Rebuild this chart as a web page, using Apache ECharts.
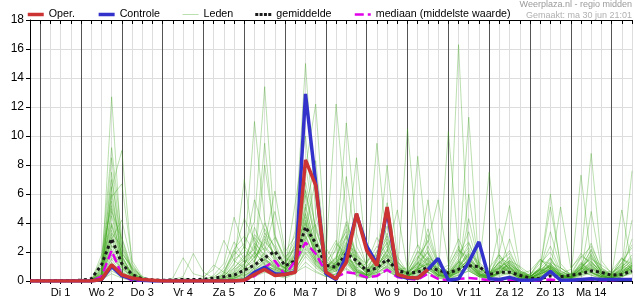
<!DOCTYPE html>
<html>
<head>
<meta charset="utf-8">
<script src="https://cdn.jsdelivr.net/npm/echarts@6/dist/echarts.min.js"></script>
<style>
html,body{margin:0;padding:0;background:#fff;}
#c{width:635px;height:300px;}
</style>
</head>
<body>
<div id="c"></div>
<script>
// Day labels (placed at 12:00 of each day)
const dayLabels = ['Di 1','Wo 2','Do 3','Vr 4','Za 5','Zo 6','Ma 7','Di 8','Wo 9','Do 10','Vr 11','Za 12','Zo 13','Ma 14'];
const yTicks = [0,2,4,6,8,10,12,14,16,18];

// Oper. (operational run), 6-hourly from ma 30 jun 18:00
const oper = [0, 0,0,0,0, 0,0,0.1,1.12, 0.43,0.2,0.1,0.05, 0,0,0,0, 0,0,0,0, 0.05,0.45,0.8,0.38, 0.45,0.6,8.35,6.6, 0.61,0.15,1.3,4.65, 2.1,1.07,5.1,0.45, 0.25,0.2,0.8];

// Controle
const controle = [0, 0,0,0,0, 0,0,0.1,1.0, 0.35,0.15,0.05,0, 0,0,0,0, 0,0,0,0, 0.05,0.6,0.95,0.5, 0.45,0.65,12.9,6.8, 0.5,0.1,1.8,4.6, 2.4,1.2,4.9,0.4, 0.2,0.2,0.8,1.55, 0.05,0.15,1.3,2.7, 0.15,0.1,0.25,0.05, 0.05,0.1,0.66,0.05, 0.05,0.1,0.15,0.1, 0.1,0.1,0.1];

// gemiddelde (ensemble mean)
const gemiddelde = [0.02, 0.02,0.02,0.03,0.03, 0.05,0.15,1.1,2.92, 1.2,0.45,0.15,0.08, 0.05,0.08,0.1,0.1, 0.12,0.2,0.3,0.4, 0.75,1.1,1.6,2.05, 1.05,1.4,3.73,2.6, 1.07,0.96,1.9,1.4, 0.7,0.9,1.5,0.73, 0.55,0.6,0.95,0.75, 0.55,0.8,1.05,1.0, 0.45,0.6,0.6,0.4, 0.2,0.15,0.35,0.3, 0.4,0.5,0.7,0.6, 0.4,0.45,0.7];

// mediaan (middelste waarde)
const mediaan = [0, 0,0,0,0, 0,0,0.3,2.1, 0.4,0.05,0,0, 0,0,0,0, 0,0,0,0, 0,0.35,0.95,1.4, 0.4,1.4,2.65,1.88, 0.6,0.27,0.6,0.5, 0.25,0.35,0.78,0.27, 0.15,0.1,0.5,0.15, 0.05,0.15,0.2,0.15, 0.05,0.05,0.1,0.05, 0,0.05,0.1,0.05, 0.05,0.1,0.1,0.05, 0.05,0.1,0.1];

// Leden (ensemble members)
const leden01 = [0, 0,0,0,0, 0,0,0.3,12.7, 1.8,0.4,0,0, 0,0,0,0, 0,0,0.2,0.6, 1.1,2.4,1.5,0.8, 0.5,1.3,4.2,2.0, 0.7,0.4,1.6,0.3, 0.2,0.9,2.2,0.5, 0.1,0.3,1.2,0.6, 0.4,16.3,1.3,0.5, 0.3,0.6,1.0,0.2, 0.1,0.5,0.7,0.3, 0.2,1.2,0.6,0.2, 0.1,0.5,0.9];
const leden02 = [0, 0,0,0,0, 0,0,0.8,8.5, 2.1,0.6,0.1,0, 0,0,0,0, 0,0,0.5,1.8, 2.6,4.1,13.4,3.2, 1.5,2.8,6.3,3.1, 1.1,0.6,2.4,1.2, 0.5,1.4,3.8,1.1, 0.4,0.9,2.1,0.8, 0.5,1.6,3.4,0.9, 0.4,1.8,0.7,0.3, 0.2,0.6,1.5,0.4, 0.3,0.8,2.2,0.6, 0.4,1.1,0.7];
const leden03 = [0, 0,0,0,0, 0,0,0.2,6.4, 9.0,1.2,0.2,0, 0,0,0,0, 0,0,0,0.3, 0.8,1.7,2.3,1.4, 0.9,3.5,15.0,4.6, 1.2,0.8,1.9,0.7, 0.3,0.6,1.8,0.9, 0.5,1.2,0.8,0.4, 0.9,2.4,1.1,0.4, 0.2,0.5,1.3,0.6, 0.3,0.7,0.4,0.2, 0.1,0.6,1.4,0.5, 0.3,0.8,2.9];
const leden04 = [0, 0,0,0,0, 0,0,0.5,7.5, 1.4,0.3,0,0, 0,0,0.2,0.1, 0,0.4,1.2,4.4, 2.2,1.3,3.1,1.8, 0.6,1.9,7.8,12.2, 2.3,1.1,3.2,1.5, 0.6,1.5,2.7,0.8, 0.4,0.7,1.6,0.5, 0.3,0.9,2.1,1.0, 0.5,1.3,0.6,0.2, 0.1,0.4,0.9,0.4, 0.2,0.9,0.5,0.3, 0.2,0.4,1.1];
const leden05 = [0, 0,0,0,0, 0,0,1.1,7.0, 2.6,0.8,0.1,0, 0,0,0,0, 0,0,0.1,0.6, 1.4,3.0,2.1,4.8, 1.7,2.2,5.1,2.4, 1.9,12.2,4.4,1.6, 0.7,2.1,1.3,0.6, 0.3,1.1,3.6,1.2, 0.6,1.4,0.9,0.4, 0.3,0.8,1.7,0.5, 0.2,1.0,2.4,0.7, 0.3,0.7,1.8,0.6, 0.4,1.6,0.8];
const leden06 = [0, 0,0,0,0, 0,0,0.4,6.5, 1.2,0.5,0,0, 0,0,0,0, 0,0,0,0.2, 0.5,1.1,1.9,1.0, 0.7,1.5,3.9,2.6, 1.4,2.1,10.9,3.3, 1.0,1.8,2.9,1.2, 0.5,1.3,0.9,0.3, 10.3,2.2,0.8,0.4, 0.4,0.9,0.6,0.2, 0.1,0.3,0.8,0.4, 0.3,1.3,0.7,0.3, 0.2,0.6,1.3];
const leden07 = [0, 0,0,0,0, 0,0,0.6,6.0, 1.7,0.4,0.1,0, 0,0,0,0, 0.1,0.3,0.7,1.9, 4.3,2.8,1.6,0.9, 0.6,1.0,4.7,1.9, 0.8,1.3,7.2,2.4, 1.1,9.5,2.3,0.7, 0.3,0.8,1.4,0.6, 0.2,0.7,1.6,0.5, 0.3,1.1,0.8,0.3, 0.2,0.5,1.2,0.4, 0.2,0.6,0.4,0.2, 0.1,0.3,0.7];
const leden08 = [0, 0,0,0,0, 0,0,0.9,5.5, 2.3,0.7,0.1,0, 0,0,0,0, 0,0,0.4,1.5, 2.0,5.6,3.4,1.5, 0.8,1.4,6.8,3.7, 1.3,0.9,2.6,1.1, 0.6,1.2,4.5,1.4, 0.5,1.6,2.7,5.6, 1.2,2.9,1.3,0.6, 0.4,2.0,5.2,0.9, 0.3,0.8,1.1,0.3, 0.2,0.9,1.6,0.7, 0.3,1.0,0.6];
const leden09 = [0, 0,0,0,0, 0,0,0.3,5.0, 1.0,0.2,0,0, 0,0.1,0.3,1.9, 0.6,0.2,0.4,0.9, 1.6,2.2,4.0,2.1, 0.9,1.7,3.2,1.4, 0.6,1.0,1.8,0.8, 0.4,0.7,1.2,0.5, 0.6,8.6,1.9,0.7, 0.3,0.6,6.0,1.1, 0.5,1.3,0.9,0.4, 0.3,0.9,5.1,1.2, 0.4,1.2,0.6,0.3, 0.2,0.4,0.8];
const leden10 = [0, 0,0,0,0, 0,0,0.2,4.5, 1.5,0.4,0,0, 0,0,0,0, 0,0,0.2,0.8, 1.2,1.8,9.5,2.6, 1.1,2.4,4.0,1.7, 0.7,1.3,2.2,1.5, 0.8,1.6,0.9,0.4, 0.3,1.0,1.7,0.6, 0.4,1.3,0.7,0.3, 0.2,0.6,1.4,0.6, 0.4,1.5,0.8,5.1, 0.9,1.7,8.8,1.4, 0.5,1.2,0.9];
const leden11 = [0, 0,0,0,0, 0,0,1.3,4.0, 1.9,1.0,0.2,0, 0,0,0,0, 0,0,0,0.4, 0.9,1.4,2.6,6.2, 2.0,3.1,8.0,3.5, 1.5,1.1,3.0,1.3, 0.6,1.0,1.9,0.7, 0.3,0.9,0.6,0.2, 0.1,0.5,1.1,0.4, 0.2,0.7,0.5,0.2, 0.1,0.4,0.9,0.3, 0.2,7.3,1.4,0.5, 0.3,0.8,1.5];
const leden12 = [0, 0,0,0,0, 0,0,0.7,3.5, 1.2,0.6,0.1,0, 0,0,0,0, 0,0.2,0.9,2.7, 1.5,0.8,1.2,0.7, 0.5,0.9,3.4,2.2, 0.9,1.6,4.1,1.9, 0.7,1.4,5.4,1.3, 0.6,2.1,1.3,0.5, 0.4,1.3,11.3,0.9, 0.4,1.0,0.7,0.3, 0.2,0.5,1.0,0.4, 0.3,0.8,1.9,0.6, 0.3,0.9,0.5];
const leden13 = [0, 0,0,0,0, 0,0,0.4,3.0, 0.9,0.3,0,0, 0,0,0,0, 0,0,0,0.1, 0.3,0.9,1.5,1.1, 0.6,1.1,2.8,1.3, 0.5,0.8,1.5,0.6, 0.3,0.8,3.3,0.9, 0.4,1.2,0.8,0.3, 0.2,0.8,1.5,0.6, 7.5,1.6,0.8,0.3, 0.2,0.6,1.2,0.5, 0.3,0.7,0.4,0.2, 0.1,0.3,0.6];
const leden14 = [0, 0,0,0,0, 0,0,0.1,2.5, 0.7,0.2,0,0, 0,0,0,0, 0,0,0,0, 0.2,0.6,1.0,0.8, 0.5,1.6,5.9,2.8, 1.2,0.7,1.3,0.5, 0.3,0.5,1.1,0.4, 10.5,2.4,1.0,0.4, 0.3,0.7,1.3,0.5, 0.4,1.1,0.6,0.3, 0.2,0.4,0.9,0.3, 0.2,0.6,1.2,0.4, 0.3,0.7,7.6];
const leden15 = [0, 0,0,0,0, 0,0,0.5,2.0, 1.1,0.5,0.1,0, 0,0,0,0, 0,0,0.3,1.1, 7.0,2.3,1.4,0.9, 0.7,1.2,2.5,1.1, 0.6,1.0,2.0,0.9, 0.4,1.1,2.0,4.9, 0.8,1.7,1.1,0.4, 0.3,0.9,1.9,0.7, 0.3,1.0,0.6,0.2, 0.1,0.3,0.8,0.3, 0.2,0.6,4.8,0.9, 0.4,4.9,1.0];
const leden16 = [0, 0,0,0,0, 0,0,0.3,1.8, 0.6,0.2,0,0, 0,0.2,1.6,0.5, 0.3,0.8,2.8,1.4, 0.9,1.6,2.9,1.7, 0.8,2.0,6.2,2.6, 0.9,1.4,3.6,1.8, 0.6,1.3,2.4,1.0, 0.5,1.4,5.6,0.9, 0.4,1.2,2.6,1.0, 0.4,0.9,1.6,0.5, 0.3,0.8,6.0,0.9, 0.4,1.0,2.1,0.7, 0.4,1.3,2.3];
const leden17 = [0, 0,0,0,0, 0,0,0.2,1.5, 0.5,0.1,0,0, 0,0,0,0, 0,0,0.1,0.5, 1.0,3.7,2.0,1.2, 0.9,5.4,10.0,3.0, 1.1,0.8,1.5,0.7, 0.4,0.9,1.6,0.6, 0.3,0.8,1.3,0.5, 0.3,0.8,1.2,0.4, 0.3,0.6,0.4,0.2, 0.1,0.3,0.7,0.3, 0.2,0.5,0.9,0.4, 0.2,0.5,0.9];
const leden18 = [0, 0,0,0,0, 0,0,0.1,1.2, 0.4,0.1,0,0, 0,0,0,0, 0,0,0,0.2, 0.4,0.8,1.3,0.9, 0.6,1.3,4.9,8.3, 1.6,2.8,1.3,0.6, 0.5,1.0,2.1,0.9, 0.3,0.9,1.5,0.6, 0.4,1.0,1.8,0.7, 0.3,0.9,1.4,0.5, 0.3,0.7,1.0,0.4, 0.2,0.8,1.3,0.5, 0.3,0.6,1.1];
const leden19 = [0, 0,0,0,0, 0,0,0.6,1.0, 0.8,0.3,0.1,0, 0,0,0,0, 0,0,0.5,2.1, 1.3,1.9,3.6,2.3, 1.0,1.8,3.6,1.8, 0.7,1.1,2.3,8.5, 1.4,1.8,1.2,0.5, 0.3,0.8,1.2,0.4, 0.3,1.1,0.8,0.3, 0.2,0.7,1.2,0.4, 0.3,0.8,0.6,0.2, 0.1,0.5,1.0,0.4, 0.2,0.7,1.2];
const leden20 = [0, 0,0,0,0, 0,0,0,0.7, 0.3,0.1,0,0, 0,0,0,0, 0,0,0,0.1, 0.3,0.7,1.1,0.6, 0.4,0.7,2.2,1.2, 0.5,1.0,1.7,0.8, 0.5,1.2,0.8,0.3, 0.2,0.6,1.0,0.4, 0.2,0.6,1.1,0.4, 0.2,0.5,0.9,0.3, 0.2,0.6,1.6,0.5, 0.3,0.9,1.7,0.6, 0.4,0.8,1.4];
const leden21 = [0, 0,0,0,0, 0,0,1.5,9.2, 3.0,0.9,0.2,0, 0,0,0,0, 0,0,0.2,0.9, 1.8,11.0,4.2,1.3, 0.9,1.6,3.0,1.5, 0.6,1.3,2.7,1.0, 0.4,1.0,1.7,0.6, 0.3,0.9,2.4,0.9, 0.5,1.3,0.9,0.3, 0.2,0.6,1.3,0.4, 0.3,0.8,0.5,0.2, 0.1,0.4,0.8,0.3, 0.2,0.5,0.9];
const leden22 = [0, 0,0,0,0, 0,0,0.8,5.8, 6.7,1.4,0.3,0, 0,0,0,0, 0,0,0,0.3, 0.7,1.2,8.0,3.1, 1.3,2.2,4.4,2.0, 0.9,1.5,3.9,1.6, 0.7,1.4,8.0,1.7, 0.6,1.2,1.9,0.7, 0.4,1.0,1.7,0.6, 0.3,1.4,0.9,0.4, 0.2,0.5,1.1,0.4, 0.3,1.0,0.6,0.3, 0.2,0.6,1.0];
const leden23 = [0, 0,0,0,0, 0,0,0.4,3.8, 1.6,0.5,0.1,0, 0,0,0,0, 0.2,1.1,0.6,0.3, 0.5,0.9,1.5,1.0, 0.6,1.1,3.1,1.5, 0.7,1.2,2.0,0.8, 0.4,0.8,1.4,0.5, 0.3,0.7,1.1,0.4, 0.3,0.8,4.3,1.2, 0.5,3.6,1.0,0.4, 0.3,0.6,1.1,0.4, 0.2,0.7,1.1,0.5, 0.3,0.6,1.0];
const leden24 = [0, 0,0,0,0.1, 0,0,0.3,2.8, 1.0,0.4,0.1,0, 0,0,0,0, 0,0,0,0, 0.2,0.5,0.9,0.6, 0.4,0.8,2.0,1.1, 0.5,0.9,1.4,0.6, 0.3,0.6,1.0,0.4, 0.3,0.7,3.2,1.1, 0.4,0.9,1.4,0.5, 0.3,0.8,2.9,0.7, 0.3,0.8,3.4,0.9, 0.4,0.9,0.6,0.3, 0.2,0.7,4.2];
const leden25 = [0, 0,0,0,0, 0,0,0.2,2.2, 0.6,0.2,0,0, 0,0,0,0, 0,0,0,0, 0.1,0.4,0.8,0.5, 0.3,0.6,1.7,0.9, 0.4,0.7,1.1,0.5, 0.2,0.5,0.9,0.3, 0.2,0.5,0.8,0.3, 0.2,0.6,1.0,0.4, 0.2,0.5,0.8,0.3, 0.2,0.5,0.9,0.3, 0.2,0.6,1.1,0.4, 0.2,0.5,0.8];
const leden26 = [0, 0,0,0,0, 0,0,0.5,3.2, 1.3,0.3,0,0, 0,0,0,0, 0,0,0,0.2, 0.6,1.0,1.7,1.2, 0.8,1.4,3.6,7.0, 1.8,1.0,1.6,0.7, 0.4,0.9,1.4,0.6, 0.3,0.8,1.2,0.5, 0.3,0.8,1.2,0.5, 0.2,0.6,1.0,0.3, 0.2,0.5,0.8,0.3, 0.2,0.6,1.0,0.4, 0.2,0.6,1.0];
const leden27 = [0, 0,0,0,0, 0,0,0.1,0.5, 0.2,0,0,0, 0,0,0,0, 0,0,0,0, 0.1,0.3,0.6,0.4, 0.2,0.5,1.3,0.7, 0.3,0.5,0.9,0.4, 0.2,0.4,0.7,0.3, 0.1,0.4,0.6,0.2, 0.1,0.4,0.7,0.3, 0.1,0.3,0.6,0.2, 0.1,0.3,0.5,0.2, 0.1,0.3,0.6,0.2, 0.1,0.3,0.5];
const leden28 = [0, 0,0,0,0, 0,0,0.2,1.3, 0.4,0.1,0,0, 0,0,0,0, 0,0,0,0.3, 0.9,2.0,1.2,0.7, 0.5,0.9,2.6,1.3, 0.6,0.9,1.6,0.7, 0.3,0.7,1.3,0.5, 0.2,0.6,1.0,0.4, 0.2,0.7,1.3,0.5, 0.2,0.7,1.1,0.4, 0.2,0.6,1.0,0.4, 0.2,0.5,0.9,0.3, 0.2,0.4,0.7];
const leden29 = [0, 0,0,0,0, 0,0,0.6,4.8, 2.9,0.7,0.1,0, 0,0,0,0, 0,0,0,0.4, 1.2,2.6,1.8,1.1, 0.7,1.8,5.3,2.1, 0.9,1.7,3.1,1.2, 0.5,1.6,2.6,0.9, 0.4,1.3,2.0,0.7, 0.5,1.4,2.3,0.8, 0.4,1.2,2.1,0.6, 0.3,0.9,1.6,0.5, 0.3,1.1,2.6,0.8, 0.4,0.9,1.8];
const leden30 = [0, 0,0,0,0, 0,0,0.9,3.9, 1.3,0.5,0.1,0, 0,0,0,0, 0,0,0.3,1.2, 2.4,1.6,2.7,1.9, 1.2,2.5,4.1,1.6, 0.7,2.3,3.4,1.4, 0.8,2.0,3.1,1.0, 0.5,1.5,2.8,1.1, 0.6,1.9,2.7,0.9, 0.5,1.3,1.9,0.7, 0.4,1.2,2.0,0.6, 0.4,1.6,2.4,0.9, 0.5,1.2,2.5];
const leden31 = [0, 0,0,0,0, 0,0,0.3,2.9, 4.2,1.1,0.2,0, 0,0,0,0, 0,0,0,0.1, 0.6,1.3,3.3,2.4, 1.0,1.5,2.9,3.9, 1.3,1.1,2.5,2.0, 0.9,1.1,1.8,1.3, 0.7,1.0,1.6,1.2, 0.6,1.1,1.9,1.3, 0.6,0.9,1.4,1.0, 0.5,0.8,1.3,0.9, 0.5,1.0,1.5,1.1, 0.6,1.0,1.6];
const leden32 = [0, 0,0,0,0, 0,0,1.8,5.2, 1.7,0.5,0.1,0, 0,0,0,0, 0,0,0.2,0.7, 1.5,3.2,2.4,1.6, 0.9,2.1,3.7,1.9, 1.0,1.6,2.1,1.7, 1.2,2.4,1.5,0.8, 0.6,2.0,1.4,0.7, 0.7,2.1,1.6,0.7, 0.5,1.6,1.2,0.5, 0.4,1.4,1.2,0.5, 0.5,1.7,1.3,0.6, 0.5,1.5,1.2];
const leden33 = [0, 0,0,0,0, 0,0,0.4,2.4, 1.9,0.9,0.3,0, 0,0,0,0, 0,0,0.1,0.5, 0.8,1.1,2.0,3.0, 1.6,1.2,2.3,1.4, 0.8,0.9,1.5,1.2, 0.6,0.8,1.4,1.1, 0.5,0.8,1.2,0.9, 0.5,0.9,1.4,1.0, 0.4,0.8,1.1,0.7, 0.4,0.7,1.0,0.7, 0.4,0.8,1.2,0.8, 0.4,0.7,1.1];
const leden34 = [0, 0,0,0,0, 0,0,0.2,1.6, 0.9,0.3,0,0, 0,0,0,0, 0,0,0,0.2, 0.4,0.7,1.4,1.0, 0.6,0.9,1.9,1.0, 0.5,0.7,1.2,0.6, 0.4,0.6,1.0,0.5, 0.3,0.6,0.9,0.4, 0.3,0.6,1.0,0.5, 0.3,0.5,0.9,0.4, 0.2,0.5,0.8,0.4, 0.3,0.6,0.9,0.4, 0.3,0.5,0.9];
const leden35 = [0, 0,0,0,0, 0,0,0.7,3.3, 2.4,0.8,0.2,0, 0,0,0,0, 0,0.1,0.6,2.2, 3.1,2.0,1.1,0.8, 0.6,2.7,4.6,2.3, 1.1,2.6,1.8,0.9, 1.2,3.0,1.7,0.8, 0.9,2.5,1.5,0.7, 1.1,2.2,1.3,0.6, 0.9,1.8,1.0,0.5, 0.7,1.5,0.9,0.5, 0.8,1.9,1.1,0.5, 0.7,1.6,1.0];
const leden36 = [0, 0,0,0,0, 0,0,0.1,0.9, 0.5,0.2,0,0, 0,0,0,0, 0,0,0,0, 0.2,0.5,0.8,0.5, 0.3,0.6,1.0,0.6, 0.3,0.5,0.8,0.4, 0.2,0.4,0.7,0.3, 0.2,0.4,0.6,0.3, 0.2,0.4,0.7,0.3, 0.2,0.4,0.6,0.3, 0.2,0.3,0.5,0.2, 0.2,0.4,0.6,0.3, 0.2,0.3,0.6];

const leden = [leden01,leden02,leden03,leden04,leden05,leden06,leden07,leden08,leden09,leden10,
  leden11,leden12,leden13,leden14,leden15,leden16,leden17,leden18,leden19,leden20,
  leden21,leden22,leden23,leden24,leden25,leden26,leden27,leden28,leden29,leden30,
  leden31,leden32,leden33,leden34,leden35,leden36];

// 6-hourly time categories from ma 30 jun 18:00 (60 steps)
const categories = [];
for (let i = 0; i < 60; i++) {
  const h = 18 + 6 * i;
  const d = Math.floor(h / 24);
  const day = d === 0 ? '30 jun' : d + ' jul';
  categories.push(day + ' ' + String(h % 24).padStart(2, '0') + ':00');
}

const FONT = 'Liberation Sans, Arial, sans-serif';
const chart = echarts.init(document.getElementById('c'), null, {renderer: 'canvas'});

const series = [];
leden.forEach(function (m) {
  series.push({
    name: 'Leden', type: 'line', data: m, xAxisIndex: 0, symbol: 'none',
    lineStyle: {color: 'rgba(60,165,25,0.35)', width: 1},
    itemStyle: {color: 'rgba(60,165,25,0.4)'},
    z: 2, silent: true
  });
});
series.push({
  name: 'gemiddelde', type: 'line', data: gemiddelde, symbol: 'none',
  lineStyle: {color: '#1a1a1a', width: 3, type: [3, 3]}, itemStyle: {color: '#1a1a1a'}, z: 4
});
series.push({
  name: 'mediaan (middelste waarde)', type: 'line', data: mediaan, symbol: 'none',
  lineStyle: {color: '#e000e8', width: 2.5, type: [9, 4]}, itemStyle: {color: '#e000e8'}, z: 4
});
series.push({
  name: 'Controle', type: 'line', data: controle, symbol: 'none',
  lineStyle: {color: '#3333cc', width: 3.5}, itemStyle: {color: '#3333cc'}, z: 5
});
series.push({
  name: 'Oper.', type: 'line', data: oper, symbol: 'none',
  lineStyle: {color: '#cc3333', width: 3.5}, itemStyle: {color: '#cc3333'}, z: 6
});

const hidden = {color: 'rgba(0,0,0,0)', borderColor: 'rgba(0,0,0,0)', borderWidth: 0};

chart.setOption({
  animation: false,
  backgroundColor: '#fff',
  grid: {left: 30, right: 0, top: 20, bottom: 19, containLabel: false},
  legend: {
    data: [
      {name: 'Oper.', itemStyle: hidden},
      {name: 'Controle', itemStyle: hidden},
      {name: 'Leden', itemStyle: hidden},
      {name: 'gemiddelde', icon: 'path://M0,0H3V3H0ZM4.33,0H7.33V3H4.33ZM8.67,0H11.67V3H8.67ZM13,0H16V3H13Z', itemStyle: {color: '#1a1a1a'}},
      {name: 'mediaan (middelste waarde)', itemStyle: hidden}
    ],
    left: 26, top: 9, padding: 0, itemWidth: 16, itemHeight: 3, itemGap: 22,
    lineStyle: {width: 'inherit'},
    textStyle: {fontFamily: FONT, fontSize: 10.7, color: '#000'}
  },
  graphic: [
    {type: 'text', right: 3, top: 0, style: {text: 'Weerplaza.nl - regio midden', fill: '#9a9a9a', font: '9px ' + FONT}},
    {type: 'text', right: 3, top: 11, style: {text: 'Gemaakt: ma 30 jun 21:01', fill: '#b0b0b0', font: '9px ' + FONT}}
  ],
  xAxis: [
    {
      type: 'category', data: categories, boundaryGap: false, position: 'bottom',
      axisLine: {lineStyle: {color: '#000', width: 1}},
      axisTick: {show: true, interval: 0, length: 3, lineStyle: {color: '#000'}},
      axisLabel: {
        interval: function (idx) { return idx >= 3 && (idx - 3) % 4 === 0; },
        formatter: function (v, idx) { return dayLabels[(idx - 3) / 4] || ''; },
        fontFamily: FONT, fontSize: 11, color: '#000', margin: 6
      },
      splitLine: {show: true, interval: 0, lineStyle: {color: '#dddddd', width: 1}}
    },
    {
      type: 'category', data: categories, boundaryGap: false, position: 'top',
      axisLine: {lineStyle: {color: '#000', width: 1}},
      axisTick: {show: true, interval: 0, inside: true, length: 4, lineStyle: {color: '#000'}},
      axisLabel: {show: false},
      splitLine: {show: true, interval: function (idx) { return idx % 4 === 1; }, lineStyle: {color: '#555', width: 1}}
    }
  ],
  yAxis: {
    type: 'value', min: 0, max: 18, interval: 2,
    axisLine: {show: true, lineStyle: {color: '#000'}},
    axisTick: {show: true, length: 4, lineStyle: {color: '#000'}},
    axisLabel: {fontFamily: FONT, fontSize: 12, color: '#000', margin: 6,
      formatter: function (v) { return yTicks.indexOf(v) >= 0 ? String(v) : ''; }},
    splitLine: {show: true, lineStyle: {color: '#dddddd', width: 1}}
  },
  series: series
});
</script>
</body>
</html>
